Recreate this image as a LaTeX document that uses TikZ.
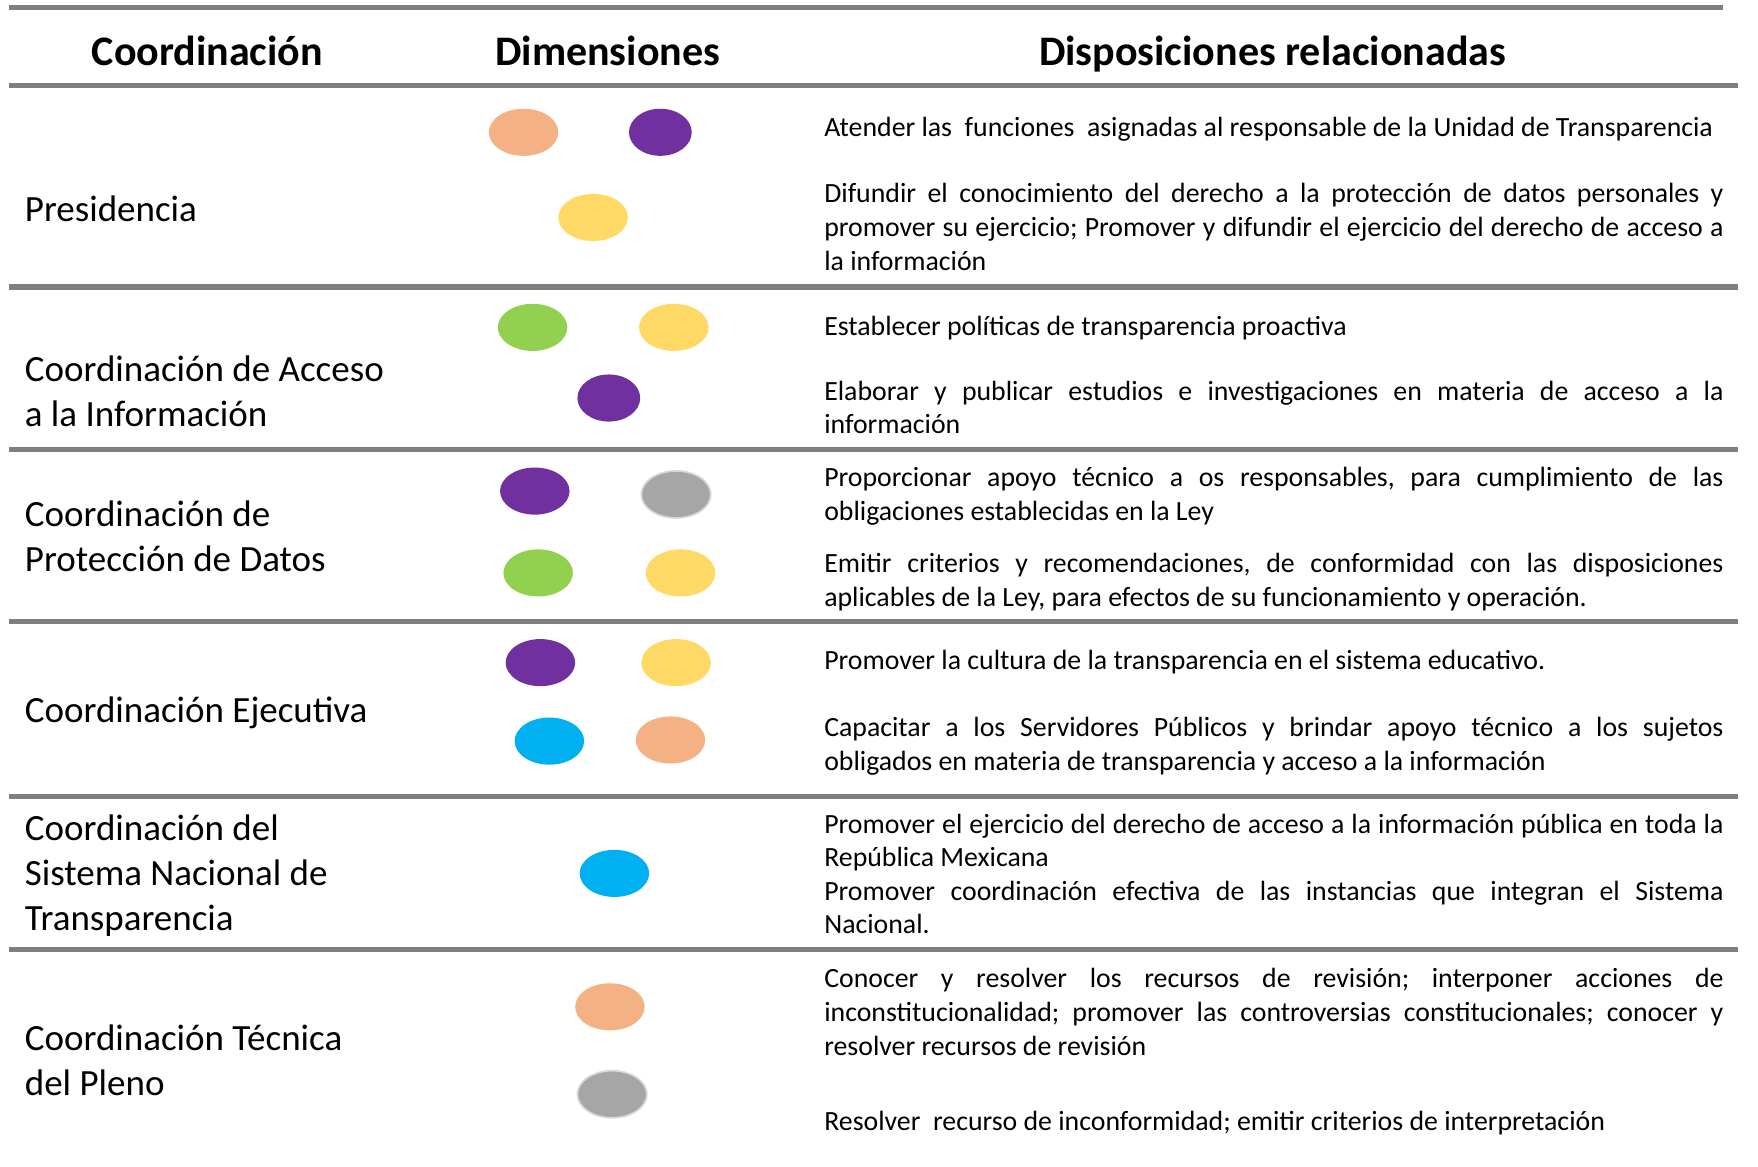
\documentclass[tikz,border=0pt]{standalone}
\usepackage{fontspec}
\setmainfont{Carlito}
\usetikzlibrary{shapes.geometric}

\definecolor{rulegray}{HTML}{7F7F7F}
\definecolor{peach}{HTML}{F4B183}
\definecolor{violet}{HTML}{7030A0}
\definecolor{gold}{HTML}{FFD966}
\definecolor{lime}{HTML}{92D050}
\definecolor{sky}{HTML}{00B0F0}
\definecolor{stone}{HTML}{A6A6A6}
\definecolor{stoneedge}{HTML}{D9D9D9}

\begin{document}
\begin{tikzpicture}[x=1pt, y=-1pt,
    head/.style={font=\fontsize{37.5}{45}\selectfont\bfseries, anchor=base, inner sep=0pt},
    coord/.style={font=\fontsize{33}{40}\selectfont, anchor=base west, align=left, inner sep=0pt},
    dispo/.style={font=\fontsize{24.8}{30}\selectfont\frenchspacing, anchor=base west, text width=802pt, align=justify, inner sep=0pt},
    dimdot/.style={ellipse, minimum width=62pt, minimum height=42pt, inner sep=0pt},
    rule/.style={line width=4.5pt, rulegray}]

    \useasboundingbox (0,0) rectangle (1568,1040);

    % Rules
    \draw[rule] (8,7) -- (1537,7);
    \draw[rule] (8,76) -- (1550,76);
    \draw[rule] (8,256) -- (1550,256);
    \draw[rule] (8,401) -- (1550,401);
    \draw[rule] (8,554) -- (1550,554);
    \draw[rule] (8,710) -- (1550,710);
    \draw[rule] (8,847) -- (1550,847);

    % Header
    \node[head] (hCoord) at (185,58) {Coordinación};
    \node[head] (hDim) at (542,58) {Dimensiones};
    \node[head] (hDisp) at (1135,58) {Disposiciones relacionadas};

    % Presidencia (last line sets the base)
    \node[coord] (pres) at (22,198) {Presidencia};
    \node[dimdot, fill=peach] (presA) at (467,118) {};
    \node[dimdot, fill=violet, minimum width=56pt] (presB) at (589,118) {};
    \node[dimdot, fill=gold] (presC) at (529,194) {};
    \node[dispo] (presT1) at (735,122) {Atender las\ \ funciones\ \ asignadas al responsable de la Unidad de Transparencia};
    \node[dispo] (presT2) at (735,181) {Difundir el conocimiento del derecho a la protección de datos personales y\linebreak promover su ejercicio; Promover y difundir el ejercicio del derecho de acceso a\linebreak la información};

    % Acceso a la Informacion
    \node[coord] (acc) at (22,380) {Coordinación de Acceso\\a la Información};
    \node[dimdot, fill=lime] (accA) at (475,292) {};
    \node[dimdot, fill=gold] (accB) at (601,292) {};
    \node[dimdot, fill=violet, minimum width=56pt] (accC) at (543,355) {};
    \node[dispo] (accT1) at (735,299) {Establecer políticas de transparencia proactiva};
    \node[dispo] (accT2) at (735,357) {Elaborar y publicar estudios e investigaciones en materia de acceso a la\linebreak información};

    % Proteccion de Datos
    \node[coord] (prot) at (22,510) {Coordinación de\\Protección de Datos};
    \node[dimdot, fill=violet] (protA) at (477,438) {};
    \node[dimdot, fill=stone, draw=stoneedge, line width=1.5pt] (protB) at (603,441) {};
    \node[dimdot, fill=lime] (protC) at (480,511) {};
    \node[dimdot, fill=gold] (protD) at (607,511) {};
    \node[dispo] (protT1) at (735,434) {Proporcionar apoyo técnico a os responsables, para cumplimiento de las\linebreak obligaciones establecidas en la Ley};
    \node[dispo] (protT2) at (735,511) {Emitir criterios y recomendaciones, de conformidad con las disposiciones\linebreak aplicables de la Ley, para efectos de su funcionamiento y operación.};

    % Ejecutiva
    \node[coord] (ejec) at (22,644) {Coordinación Ejecutiva};
    \node[dimdot, fill=violet] (ejecA) at (482,591) {};
    \node[dimdot, fill=gold] (ejecB) at (603,591) {};
    \node[dimdot, fill=sky] (ejecC) at (490,661) {};
    \node[dimdot, fill=peach] (ejecD) at (598,660) {};
    \node[dispo] (ejecT1) at (735,597) {Promover la cultura de la transparencia en el sistema educativo.};
    \node[dispo] (ejecT2) at (735,657) {Capacitar a los Servidores Públicos y brindar apoyo técnico a los sujetos\linebreak obligados en materia de transparencia y acceso a la información};

    % Sistema Nacional de Transparencia
    \node[coord] (snt) at (22,830) {Coordinación del\\Sistema Nacional de\\Transparencia};
    \node[dimdot, fill=sky] (sntA) at (548,779) {};
    \node[dispo] (sntT) at (735,743) {Promover el ejercicio del derecho de acceso a la información pública en toda la\linebreak República Mexicana\\Promover coordinación efectiva de las instancias que integran el Sistema\linebreak Nacional.};

    % Tecnica del Pleno
    \node[coord] (pleno) at (22,977) {Coordinación Técnica\\del Pleno};
    \node[dimdot, fill=peach] (plenoA) at (544,898) {};
    \node[dimdot, fill=stone, draw=stoneedge, line width=1.5pt] (plenoB) at (546,976) {};
    \node[dispo] (plenoT1) at (735,881) {Conocer y resolver los recursos de revisión; interponer acciones de\linebreak inconstitucionalidad; promover las controversias constitucionales; conocer y\linebreak resolver recursos de revisión};
    \node[dispo] (plenoT2) at (735,1008) {Resolver\ \ recurso de inconformidad; emitir criterios de interpretación};

\end{tikzpicture}
\end{document}
